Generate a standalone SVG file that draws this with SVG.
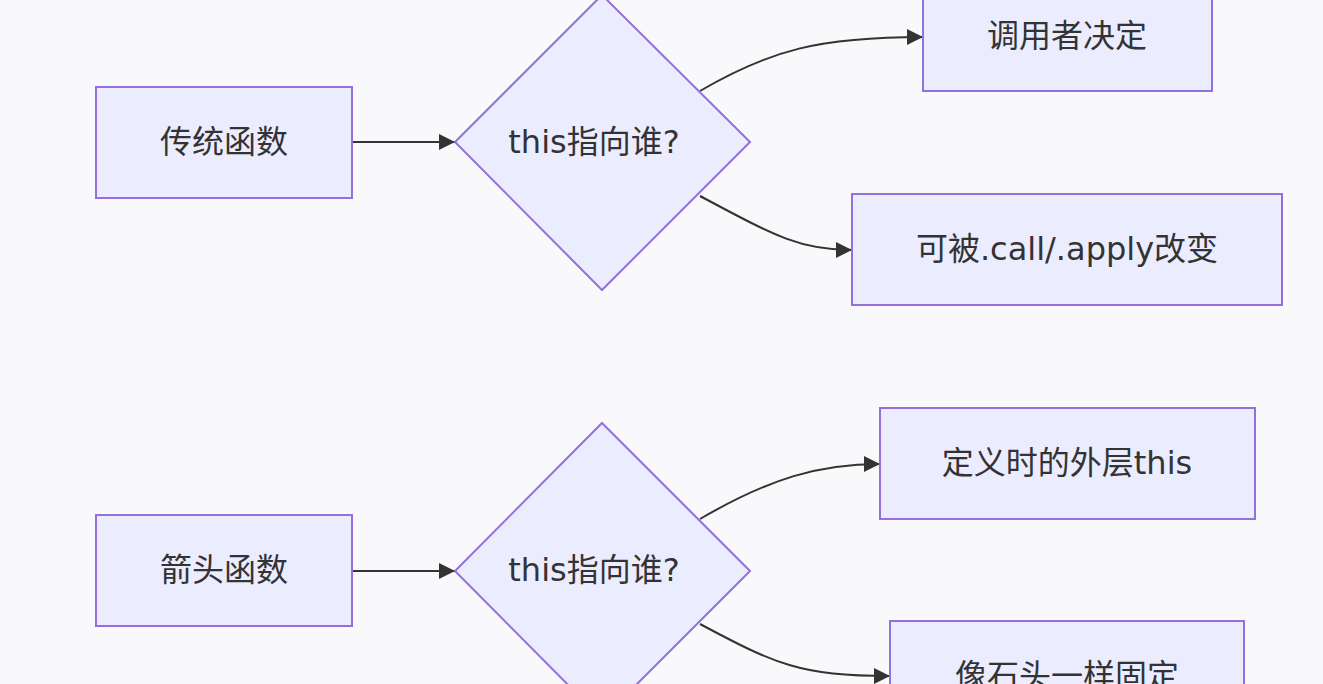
<svg xmlns="http://www.w3.org/2000/svg" width="1323" height="684" viewBox="0 0 1323 684">
<defs>
<style>
.node rect, .node polygon { fill: #ECECFF; stroke: #9370DB; stroke-width: 2; }
.node text { font-family: "DejaVu Sans", "Noto Sans CJK SC", sans-serif; font-size: 32px; fill: #333333; text-anchor: middle; dominant-baseline: central; }
.edge { fill: none; stroke: #333333; stroke-width: 2; marker-end: url(#arrow); }
</style>
<marker id="arrow" markerUnits="userSpaceOnUse" viewBox="0 0 10 10" refX="10" refY="5" markerWidth="18" markerHeight="16" orient="auto">
<path d="M0,0 L10,5 L0,10 z" fill="#333333"/>
</marker>
</defs>
<rect x="0" y="0" width="1323" height="684" fill="#F9F9FB"/>
<g id="connectors">
<path class="edge" d="M352,142 L455,142"/>
<path class="edge" d="M700,91 C770,50 820,37 923,37"/>
<path class="edge" d="M700,196 C775,236 800,250 852,250"/>
<path class="edge" d="M352,571 L455,571"/>
<path class="edge" d="M700,519 C770,478 820,464 880,464"/>
<path class="edge" d="M700,624 C775,664 800,676 890,676"/>
</g>
<g id="n1" class="node"><rect x="96" y="87" width="256" height="111"/><text x="224" y="142">传统函数</text></g>
<g id="d1" class="node"><polygon points="602,-5 750,142 602,290 455,142"/><text x="594" y="142">this指向谁?</text></g>
<g id="n2" class="node"><rect x="923" y="-17" width="289" height="108"/><text x="1067" y="36">调用者决定</text></g>
<g id="n3" class="node"><rect x="852" y="194" width="430" height="111"/><text x="1067" y="249">可被.call/.apply改变</text></g>
<g id="n4" class="node"><rect x="96" y="515" width="256" height="111"/><text x="224" y="570">箭头函数</text></g>
<g id="d2" class="node"><polygon points="602,423 750,571 602,719 455,571"/><text x="594" y="570">this指向谁?</text></g>
<g id="n5" class="node"><rect x="880" y="408" width="375" height="111"/><text x="1067" y="463">定义时的外层this</text></g>
<g id="n6" class="node"><rect x="890" y="621" width="354" height="111"/><text x="1067" y="676">像石头一样固定</text></g>
</svg>
